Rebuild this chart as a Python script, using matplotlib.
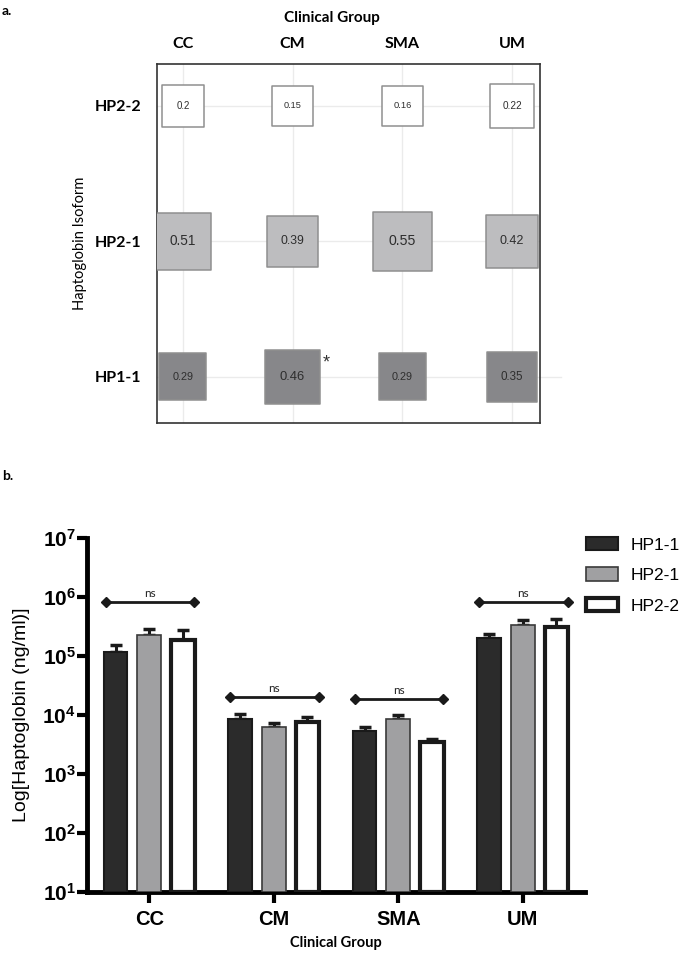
import numpy as np
import matplotlib
matplotlib.use('Agg')
import matplotlib.pyplot as plt
from matplotlib.patches import Patch

plt.rcParams['font.family'] = ['Liberation Sans', 'DejaVu Sans']
plt.rcParams['mathtext.fontset'] = 'custom'
plt.rcParams['mathtext.rm'] = 'Liberation Sans'
plt.rcParams['mathtext.bf'] = 'Liberation Sans:bold'

# Données
groupes = ['CC', 'CM', 'SMA', 'UM']
isoformes = ['HP1-1', 'HP2-1', 'HP2-2']

# a. proportions par groupe clinique
prop_hp11 = [0.29, 0.46, 0.29, 0.35]
prop_hp21 = [0.51, 0.39, 0.55, 0.42]
prop_hp22 = [0.2, 0.15, 0.16, 0.22]

# b. concentrations (ng/ml), moyenne et erreur standard (haut)
moy_hp11 = [1.15e5, 8.5e3, 5.3e3, 2.05e5]
err_hp11 = [0.4e5, 1.7e3, 0.9e3, 0.3e5]
moy_hp21 = [2.3e5, 6.2e3, 8.5e3, 3.4e5]
err_hp21 = [0.55e5, 1.0e3, 1.3e3, 0.6e5]
moy_hp22 = [1.85e5, 7.7e3, 3.5e3, 3.1e5]
err_hp22 = [0.95e5, 1.4e3, 0.35e3, 1.1e5]
ns_hauteur = [8.3e5, 2.05e4, 1.85e4, 8.3e5]

fig = plt.figure(figsize=(6.85, 9.55), dpi=100)

# ---------------- a. ----------------
ax1 = fig.add_axes([0.2292, 0.5571, 0.5591, 0.3759])
couleurs_a = ['#87878a', '#bdbdbf', 'white']
props = [prop_hp11, prop_hp21, prop_hp22]
xg = np.arange(1, len(groupes) + 1)
for i, (p, c) in enumerate(zip(props, couleurs_a)):
    p = np.array(p)
    cote = (33.5 + 46 * p) * 0.72
    ax1.scatter(xg, np.full(len(xg), i + 1), s=cote ** 2, marker='s',
                color=c, edgecolor='#8f8f8f', linewidth=1.1, zorder=3)
    for xx, v in zip(xg, p):
        ax1.text(xx, i + 1, f'{v:g}', ha='center', va='center',
                 fontsize=5.2 + 9 * v, color='#2e2e2e', zorder=4)

# étoile pour CM / HP1-1
ax1.annotate('*', (2, 1), xytext=(24, 10), textcoords='offset points',
             fontsize=13, color='#333333', ha='center', va='center')

ax1.set_xlim(0.764, 4.255)
ax1.set_ylim(0.66, 3.31)
for xx in xg:
    ax1.axvline(xx, color='#ebebeb', lw=1, zorder=1)
for yy in [2, 3]:
    ax1.axhline(yy, color='#ebebeb', lw=1, zorder=1)
ax1.plot([0.764, 4.45], [1, 1], color='#ebebeb', lw=1, zorder=1, clip_on=False)

ax1.xaxis.tick_top()
ax1.xaxis.set_label_position('top')
ax1.set_xticks(xg)
ax1.set_xticklabels(groupes, fontsize=11.5, fontweight='bold', family='Lato')
ax1.set_yticks([1, 2, 3])
ax1.set_yticklabels(isoformes, fontsize=11.5, fontweight='bold', family='Lato')
ax1.tick_params(axis='x', length=0, pad=9)
ax1.tick_params(axis='y', length=0, pad=11)
ax1.set_xlabel('Clinical Group', fontsize=11, fontweight='bold', family='Lato',
               labelpad=11, x=0.457)
ax1.set_ylabel('Haptoglobin Isoform', fontsize=10.5, family='Lato', labelpad=6)
for s in ax1.spines.values():
    s.set_linewidth(1.2)
    s.set_color('#333333')

fig.text(0.003, 0.995, 'a.', fontsize=10, fontweight='bold', family='Lato', va='top')
fig.text(0.003, 0.508, 'b.', fontsize=10, fontweight='bold', family='Lato', va='top')

# ---------------- b. ----------------
ax2 = fig.add_axes([0.127, 0.066, 0.727, 0.3707])
ax2.set_yscale('log')
x = np.arange(len(groupes))
larg = 0.19
ecart = 0.27
series = [
    (moy_hp11, err_hp11, dict(color='#2b2b2b', edgecolor='#1a1a1a', linewidth=1.5)),
    (moy_hp21, err_hp21, dict(color='#a0a0a2', edgecolor='#3a3a3a', linewidth=1.2)),
    (moy_hp22, err_hp22, dict(color='white', edgecolor='#1a1a1a', linewidth=3)),
]
for k, (m, e, style) in enumerate(series):
    pos = x + (k - 1) * ecart
    ax2.bar(pos, np.array(m) - 10, bottom=10, width=larg, zorder=3,
            label=isoformes[k], **style)
    ax2.errorbar(pos, m, yerr=[np.zeros(len(m)), e], fmt='none', ecolor='#1a1a1a',
                 elinewidth=2.2, capsize=4.5, capthick=2.5, zorder=2)

for xx, h in zip(x, ns_hauteur):
    ax2.plot([xx - 0.35, xx + 0.36], [h, h], color='#1a1a1a', lw=2,
             marker='D', markersize=5, zorder=4)
    ax2.text(xx + 0.005, h * 1.12, 'ns', ha='center', va='bottom',
             fontsize=8.5, family='Lato', color='#222222')

ax2.set_xlim(-0.5, 3.5)
ax2.set_ylim(10, 1e7)
ax2.set_yticks([10 ** k for k in range(1, 8)])
ax2.set_yticklabels([rf'$\mathbf{{10^{{{k}}}}}$' for k in range(1, 8)], fontsize=15)
ax2.minorticks_off()
ax2.set_xticks(x)
ax2.set_xticklabels(groupes, fontsize=14.5, fontweight='bold')
ax2.tick_params(axis='y', length=7, width=3, direction='out', pad=1)
ax2.tick_params(axis='x', length=8, width=3, direction='out', pad=5)
ax2.spines['top'].set_visible(False)
ax2.spines['right'].set_visible(False)
ax2.spines['left'].set_linewidth(3.5)
ax2.spines['bottom'].set_linewidth(3.5)
ax2.set_ylabel('Log[Haptoglobin (ng/ml)]', fontsize=14, labelpad=9)
ax2.set_xlabel('Clinical Group', fontsize=10.5, fontweight='bold', family='Lato', labelpad=5)

poignees = [
    Patch(facecolor='#2b2b2b', edgecolor='#1a1a1a', linewidth=1.5),
    Patch(facecolor='#a0a0a2', edgecolor='#3a3a3a', linewidth=1.2),
    Patch(facecolor='white', edgecolor='#1a1a1a', linewidth=3),
]
fig.legend(poignees, isoformes, loc='upper left', bbox_to_anchor=(0.8555, 0.4377),
           frameon=False, fontsize=12.5, handlelength=1.85, handleheight=0.8,
           labelspacing=0.85, handletextpad=0.7, borderpad=0, borderaxespad=0)

fig.savefig('out.png', dpi=100)
